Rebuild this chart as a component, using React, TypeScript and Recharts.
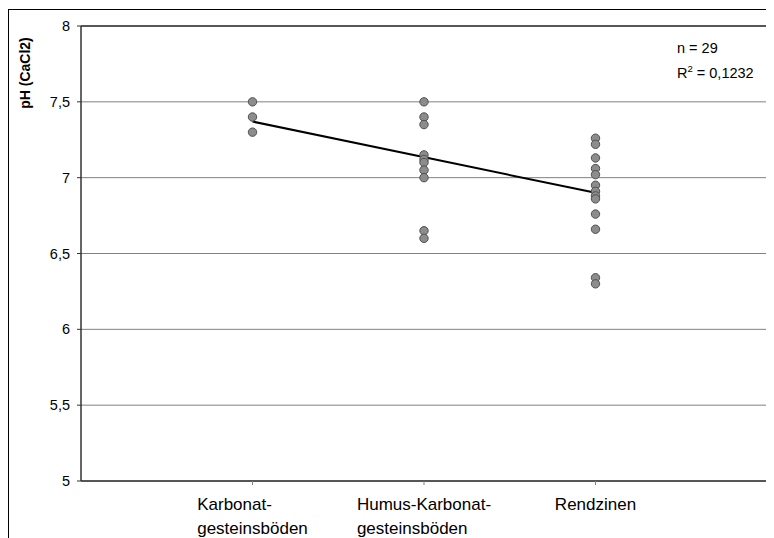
import React from 'react';
import { ScatterChart, Scatter, XAxis, YAxis, CartesianGrid, ReferenceLine, Customized } from 'recharts';

const categories = ['Karbonat-\ngesteinsböden', 'Humus-Karbonat-\ngesteinsböden', 'Rendzinen'];
const karbonatPh = [7.5, 7.4, 7.3];
const humusPh = [7.5, 7.4, 7.35, 7.15, 7.12, 7.1, 7.05, 7.0, 6.65, 6.6];
const rendzinenPh = [7.26, 7.22, 7.13, 7.06, 7.02, 6.95, 6.91, 6.88, 6.86, 6.76, 6.66, 6.34, 6.3];
const trendEnds = [7.37, 6.9];
const yTicks = [5, 5.5, 6, 6.5, 7, 7.5, 8];
const nLabel = 'n = 29';
const r2Value = '0,1232';

const FONT = '"Liberation Sans", Arial, sans-serif';

const points = [karbonatPh, humusPh, rendzinenPh].flatMap((vals, i) =>
  vals.map((y) => ({ x: i + 1, y }))
);
const trend = [
  { x: 1, y: trendEnds[0] },
  { x: 3, y: trendEnds[1] },
];

let canvas: HTMLCanvasElement | null = null;
const measure = (s: string) => {
  if (!canvas) canvas = document.createElement('canvas');
  const ctx = canvas.getContext('2d')!;
  ctx.font = `17px ${FONT}`;
  return ctx.measureText(s).width;
};

const CategoryTick = (props: any) => {
  const { x, y, payload } = props;
  const label = categories[payload.value - 1];
  if (!label) return null;
  const lines = label.split('\n');
  const w = Math.max(...lines.map(measure));
  return (
    <text x={x - w / 2} y={y + 23} fontSize={17} fontFamily={FONT} fill="#000" textAnchor="start">
      {lines.map((l, i) => (
        <tspan key={i} x={x - w / 2} dy={i === 0 ? 0 : 24}>
          {l}
        </tspan>
      ))}
    </text>
  );
};

const Dot = (props: any) => (
  <circle cx={props.cx} cy={props.cy} r={4.2} fill="#8c8c8c" stroke="#505050" strokeWidth={1} />
);

// n and R² note, top right of the plot
const Annotation = () => (
  <g fontFamily={FONT} fontSize={14.5} fill="#000">
    <text x={668} y={43}>{nLabel}</text>
    <text x={668} y={68}>
      R<tspan dy={-6} fontSize={9.5}>2</tspan>
      <tspan dy={6}>{` = ${r2Value}`}</tspan>
    </text>
  </g>
);

const YLabel = () => (
  <text
    x={16}
    y={63}
    transform="rotate(-90, 16, 63)"
    textAnchor="middle"
    dominantBaseline="central"
    fontFamily={FONT}
    fontSize={14}
    fontWeight="bold"
    fill="#000"
  >
    pH (CaCl2)
  </text>
);

export default function App() {
  return (
    <div
      style={{
        position: 'relative',
        top: 1,
        width: 766,
        height: 530,
        borderTop: '1px solid #000',
        borderLeft: '1px solid #000',
        background: '#fff',
      }}
    >
      <style>{'html,body{overflow:hidden;background:#fff}'}</style>
      <ScatterChart width={765} height={528} margin={{ top: 16, right: 7, bottom: 0, left: 0 }}>
        <CartesianGrid vertical={false} stroke="#808080" />
        <XAxis
          type="number"
          dataKey="x"
          domain={[0, 4]}
          ticks={[1, 2, 3]}
          tick={<CategoryTick />}
          tickSize={4}
          height={57}
          stroke="#333"
          strokeWidth={1.5}
          tickLine={{ stroke: '#808080', strokeWidth: 1 }}
          interval={0}
        />
        <YAxis
          type="number"
          dataKey="y"
          domain={[5, 8]}
          ticks={yTicks}
          width={72}
          tickSize={4}
          tickMargin={7}
          stroke="#333"
          strokeWidth={1.5}
          tickLine={{ stroke: '#333', strokeWidth: 1 }}
          tick={{ fill: '#000', fontSize: 14.5, fontFamily: FONT }}
          tickFormatter={(v: number) => String(v).replace('.', ',')}
        />
        <ReferenceLine y={8} stroke="#333" strokeWidth={1.5} />
        <ReferenceLine x={4} stroke="#333" strokeWidth={1.5} />
        <Scatter
          data={trend}
          line={{ stroke: '#000', strokeWidth: 2 }}
          shape={() => <g />}
          isAnimationActive={false}
        />
        <Scatter data={points} shape={<Dot />} isAnimationActive={false} />
        <Customized component={Annotation} />
        <Customized component={YLabel} />
      </ScatterChart>
    </div>
  );
}
